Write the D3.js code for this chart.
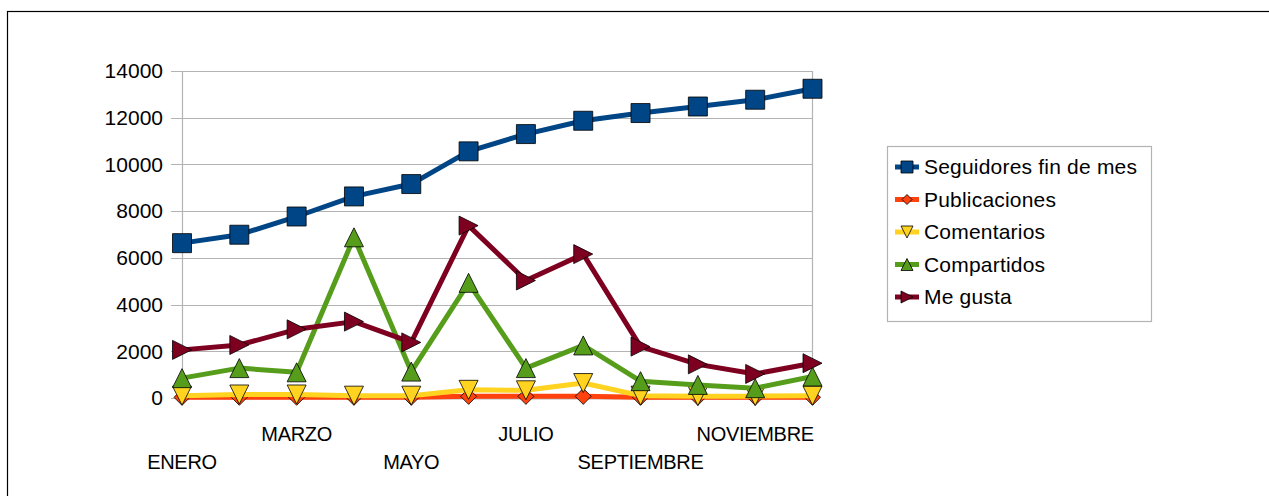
<!DOCTYPE html>
<html>
<head>
<meta charset="utf-8">
<script src="https://cdn.jsdelivr.net/npm/d3@7"></script>
<style>
  body { margin: 0; background: #ffffff; }
  svg { display: block; font-family: "Liberation Sans", Arial, sans-serif; }
</style>
</head>
<body>
<svg id="chart" width="1269" height="496"></svg>
<script>
// months shown on the category axis
let meses = [ "ENERO", "FEBRERO", "MARZO", "ABRIL", "MAYO", "JUNIO", "JULIO", "AGOSTO", "SEPTIEMBRE", "OCTUBRE", "NOVIEMBRE", "DICIEMBRE" ];
let yTicks = [ 0, 2000, 4000, 6000, 8000, 10000, 12000, 14000 ];

// series values
let seguidores    = [ 6630, 6990, 7770, 8630, 9160, 10560, 11300, 11870, 12200, 12480, 12770, 13240 ];
let publicaciones = [ 30, 30, 30, 30, 30, 70, 70, 70, 30, 30, 30, 30 ];
let comentarios   = [ 100, 150, 150, 100, 100, 350, 330, 640, 100, 80, 80, 100 ];
let compartidos   = [ 850, 1280, 1100, 6880, 1130, 4930, 1280, 2250, 720, 560, 420, 920 ];
let meGusta       = [ 2060, 2270, 2940, 3270, 2380, 7380, 5030, 6160, 2200, 1440, 1030, 1490 ];

let seriesNames  = [ "Seguidores fin de mes", "Publicaciones", "Comentarios", "Compartidos", "Me gusta" ];
let seriesColors = [ "#004586", "#ff420e", "#ffd320", "#579d1c", "#7e0021" ];
let seriesShapes = [ "square", "diamond", "down", "up", "right" ];
let seriesVals   = [ seguidores, publicaciones, comentarios, compartidos, meGusta ];

let svg = d3.select("#chart");

// outer frame
svg.append("rect")
	.attr("x", 7.5).attr("y", 11.5)
	.attr("width", 1400).attr("height", 600)
	.attr("fill", "none").attr("stroke", "#000000").attr("stroke-width", 1.2);

let plotL = 182, plotR = 812.5, plotT = 71, plotB = 398;

let x = d3.scalePoint().domain(meses).range([ plotL, plotR ]);
let y = d3.scaleLinear().domain([ 0, 14000 ]).range([ plotB, plotT ]);

// grid lines + outward ticks
let grid = svg.append("g");
grid.selectAll("line")
	.data(yTicks).enter().append("line")
		.attr("x1", plotL - 11).attr("x2", plotR)
		.attr("y1", (d)=>{ return Math.round(y(d)) + 0.5; })
		.attr("y2", (d)=>{ return Math.round(y(d)) + 0.5; })
		.attr("stroke", "#b3b3b3").attr("stroke-width", 1.2);

// y axis labels
let yAxis = svg.append("g")
	.attr("transform", "translate(" + plotL + ",0)")
	.call(d3.axisLeft(y).tickValues(yTicks).tickSize(0).tickPadding(19).tickFormat(d3.format("d")));
yAxis.select(".domain").attr("stroke", "#b3b3b3").attr("stroke-width", 1.2);
yAxis.selectAll("text").attr("font-size", "21px").attr("fill", "#000000").attr("font-family", "Liberation Sans, Arial, sans-serif");

// right border of plot
svg.append("line")
	.attr("x1", plotR).attr("x2", plotR).attr("y1", plotT).attr("y2", plotB)
	.attr("stroke", "#b3b3b3").attr("stroke-width", 1.2);

// x axis, ticks and staggered labels (every other month)
let xAxis = svg.append("g")
	.attr("transform", "translate(0," + (plotB + 0.5) + ")")
	.call(d3.axisBottom(x).tickSize(6).tickFormat(""));
xAxis.select(".domain").attr("stroke", "#b3b3b3").attr("stroke-width", 1.2);
xAxis.selectAll(".tick line").attr("stroke", "#b3b3b3").attr("stroke-width", 1.2);

svg.append("g").selectAll("text")
	.data(meses.filter((d, i)=>{ return i % 2 === 0; })).enter().append("text")
		.attr("x", (d)=>{ return x(d); })
		.attr("y", (d, i)=>{ return i % 2 === 0 ? 469 : 441; })
		.attr("text-anchor", "middle")
		.attr("font-size", "20px")
		.attr("letter-spacing", "-0.3px")
		.text((d)=>{ return d; });

// marker shapes
let markerPath = (shape, s)=>{
	if (shape === "square")  return "M" + (-s) + "," + (-s) + "H" + s + "V" + s + "H" + (-s) + "Z";
	if (shape === "diamond") return "M0," + (-s) + "L" + s + ",0L0," + s + "L" + (-s) + ",0Z";
	if (shape === "down")    return "M" + (-s) + "," + (-s) + "H" + s + "L0," + s + "Z";
	if (shape === "up")      return "M0," + (-s) + "L" + s + "," + s + "H" + (-s) + "Z";
	return "M" + (-s) + "," + (-s) + "L" + s + ",0L" + (-s) + "," + s + "Z";
};
let markerSize = [ 9.5, 8, 9.5, 9.5, 9.5 ];

let line = d3.line()
	.x((d, i)=>{ return x(meses[i]); })
	.y((d)=>{ return y(d); });

let seriesGrp = svg.append("g");
seriesVals.forEach((vals, s)=>{
	seriesGrp.append("path")
		.datum(vals)
		.attr("d", line)
		.attr("fill", "none")
		.attr("stroke", seriesColors[s])
		.attr("stroke-width", 5)
		.attr("stroke-linejoin", "round");
	seriesGrp.append("g").selectAll("path")
		.data(vals).enter().append("path")
			.attr("d", markerPath(seriesShapes[s], markerSize[s]))
			.attr("transform", (d, i)=>{ return "translate(" + x(meses[i]) + "," + y(d) + ")"; })
			.attr("fill", seriesColors[s])
			.attr("stroke", "#000000")
			.attr("stroke-width", 0.8);
});

// legend
let legend = svg.append("g");
legend.append("rect")
	.attr("x", 887.5).attr("y", 146.5).attr("width", 264).attr("height", 175)
	.attr("fill", "#ffffff").attr("stroke", "#b3b3b3").attr("stroke-width", 1.2);

let legRows = legend.selectAll("g.row")
	.data(seriesNames).enter().append("g")
		.attr("class", "row")
		.attr("transform", (d, i)=>{ return "translate(0," + (167 + i * 32.5) + ")"; });
legRows.append("line")
	.attr("x1", 895).attr("x2", 919).attr("y1", 0).attr("y2", 0)
	.attr("stroke", (d, i)=>{ return seriesColors[i]; })
	.attr("stroke-width", 5);
legRows.append("path")
	.attr("d", (d, i)=>{ return markerPath(seriesShapes[i], i === 1 ? 5 : 6); })
	.attr("transform", "translate(907,0)")
	.attr("fill", (d, i)=>{ return seriesColors[i]; })
	.attr("stroke", "#000000")
	.attr("stroke-width", 0.8);
legRows.append("text")
	.attr("x", 924).attr("dy", "0.35em")
	.attr("font-size", "21px")
	.attr("letter-spacing", "0.2px")
	.text((d)=>{ return d; });
</script>
</body>
</html>
